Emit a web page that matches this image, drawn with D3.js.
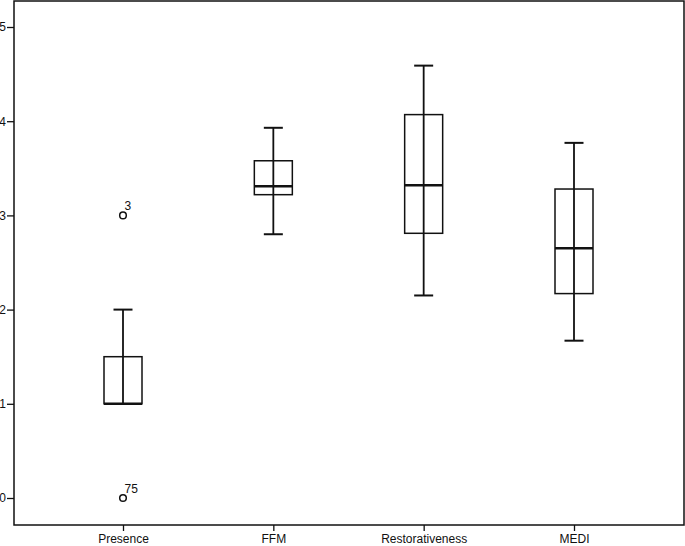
<!DOCTYPE html>
<html>
<head>
<meta charset="utf-8">
<script src="https://cdnjs.cloudflare.com/ajax/libs/d3/7.8.5/d3.min.js"></script>
<style>
  body { margin: 0; background: #fff; }
  text { font-family: "Liberation Sans", Arial, sans-serif; fill: #111; }
</style>
</head>
<body>
<svg id="chart"></svg>
<script>
const categories = ["Presence", "FFM", "Restorativeness", "MEDI"];
const whisker_low = [1.0, 2.80, 2.15, 1.67];
const q1 = [1.0, 3.22, 2.81, 2.17];
const medians = [1.0, 3.31, 3.32, 2.65];
const q3 = [1.5, 3.58, 4.07, 3.28];
const whisker_high = [2.0, 3.93, 4.59, 3.77];
const outliers = [
  {cat: "Presence", value: 3, label: "3"},
  {cat: "Presence", value: 0, label: "75"}
];
const y_ticks = [0, 1, 2, 3, 4, 5];

const WIDTH = 685, HEIGHT = 546;
const margin = {left: 14, right: 1, top: 1, bottom: 21};

const svg = d3.select("#chart").attr("width", WIDTH).attr("height", HEIGHT);

const x = d3.scalePoint()
  .domain(categories)
  .range([123, 574]);

const y = d3.scaleLinear()
  .domain([0, 5])
  .range([498, 27]);

const BOX_W = 38, CAP_W = 19;

// frame
svg.append("rect")
  .attr("x", margin.left).attr("y", margin.top)
  .attr("width", WIDTH - margin.left - margin.right)
  .attr("height", HEIGHT - margin.top - margin.bottom)
  .attr("fill", "none").attr("stroke", "#111").attr("stroke-width", 1.5);

// y axis
const yAxis = svg.append("g")
  .attr("transform", "translate(" + margin.left + ",0)")
  .call(d3.axisLeft(y).tickValues(y_ticks).tickFormat(d3.format("d")).tickSize(7).tickPadding(1));
yAxis.select(".domain").remove();
yAxis.selectAll("line").attr("stroke", "#111").attr("stroke-width", 1.3);
yAxis.selectAll("text").style("font-size", "12px").style("font-family", "Liberation Sans, Arial, sans-serif").attr("fill", "#111");

// x axis
const xAxis = svg.append("g")
  .attr("transform", "translate(0," + (HEIGHT - margin.bottom) + ")")
  .call(d3.axisBottom(x).tickSize(6).tickPadding(3));
xAxis.select(".domain").remove();
xAxis.selectAll("line").attr("stroke", "#111").attr("stroke-width", 1.3);
xAxis.selectAll("text").style("font-size", "12px").style("font-family", "Liberation Sans, Arial, sans-serif").attr("fill", "#111");

// boxes
const boxes = categories.map((c, i) => ({
  cat: c, lo: whisker_low[i], q1: q1[i], med: medians[i], q3: q3[i], hi: whisker_high[i]
}));

const g = svg.append("g").attr("class", "boxes");
const box = g.selectAll("g.box").data(boxes).enter().append("g").attr("class", "box")
  .attr("transform", d => "translate(" + x(d.cat) + ",0)");

box.append("line")
  .attr("x1", 0).attr("x2", 0)
  .attr("y1", d => y(d.hi)).attr("y2", d => y(d.lo))
  .attr("stroke", "#111").attr("stroke-width", 1.8);

box.filter(d => d.hi > d.q3).append("line")
  .attr("x1", -CAP_W / 2).attr("x2", CAP_W / 2)
  .attr("y1", d => y(d.hi)).attr("y2", d => y(d.hi))
  .attr("stroke", "#111").attr("stroke-width", 2);

box.filter(d => d.lo < d.q1).append("line")
  .attr("x1", -CAP_W / 2).attr("x2", CAP_W / 2)
  .attr("y1", d => y(d.lo)).attr("y2", d => y(d.lo))
  .attr("stroke", "#111").attr("stroke-width", 2);

box.append("rect")
  .attr("x", -BOX_W / 2).attr("width", BOX_W)
  .attr("y", d => y(d.q3)).attr("height", d => y(d.q1) - y(d.q3))
  .attr("fill", "none").attr("stroke", "#111").attr("stroke-width", 1.5);

box.append("line")
  .attr("x1", -BOX_W / 2).attr("x2", BOX_W / 2)
  .attr("y1", d => y(d.med)).attr("y2", d => y(d.med))
  .attr("stroke", "#111").attr("stroke-width", 2.5);

// outliers
const out = g.selectAll("g.outlier").data(outliers).enter().append("g").attr("class", "outlier")
  .attr("transform", d => "translate(" + x(d.cat) + "," + y(d.value) + ")");
out.append("circle").attr("r", 3.3).attr("fill", "none").attr("stroke", "#111").attr("stroke-width", 1.5);
out.append("text").attr("x", 1.5).attr("y", -5)
  .style("font-size", "12px").text(d => d.label);
</script>
</body>
</html>
